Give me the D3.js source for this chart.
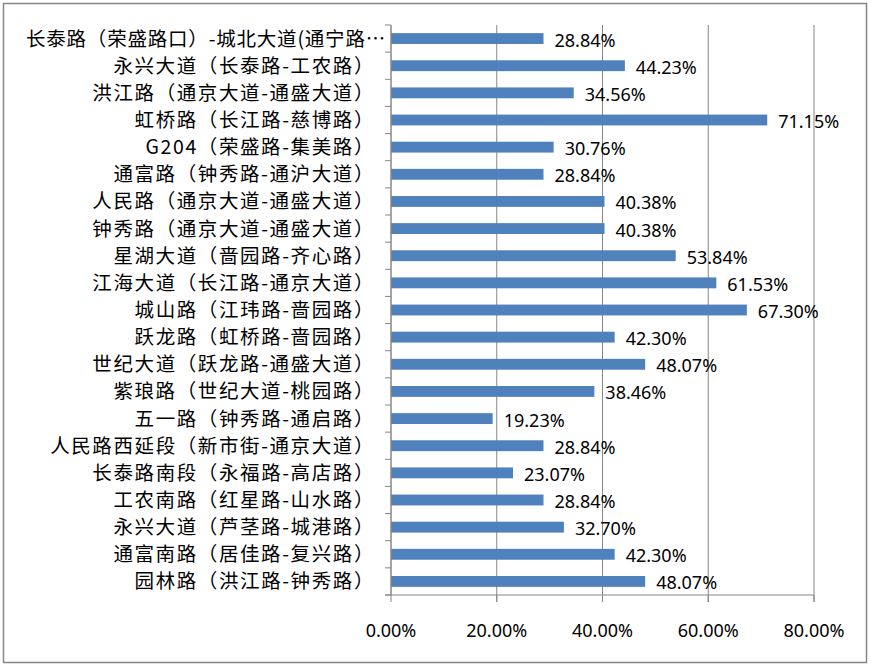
<!DOCTYPE html>
<html>
<head>
    <meta charset="utf-8">
    <style>
        body { margin: 0; background: #fff; }
        svg { display: block; }
        .cat text { font-family: "Noto Sans CJK SC", sans-serif; font-size: 19.5px; letter-spacing: 1.6px; }
        .num { font-family: "Noto Sans", sans-serif; font-size: 18px; }
    </style>
</head>
<body>
    <svg width="871" height="667"></svg>

<script src="https://d3js.org/d3.v7.min.js"></script>
<script>
    // categories top to bottom, values in %
    let roads = [
        "长泰路（荣盛路口）-城北大道(通宁路…",
        "永兴大道（长泰路-工农路）",
        "洪江路（通京大道-通盛大道）",
        "虹桥路（长江路-慈博路）",
        "G204（荣盛路-集美路）",
        "通富路（钟秀路-通沪大道）",
        "人民路（通京大道-通盛大道）",
        "钟秀路（通京大道-通盛大道）",
        "星湖大道（啬园路-齐心路）",
        "江海大道（长江路-通京大道）",
        "城山路（江玮路-啬园路）",
        "跃龙路（虹桥路-啬园路）",
        "世纪大道（跃龙路-通盛大道）",
        "紫琅路（世纪大道-桃园路）",
        "五一路（钟秀路-通启路）",
        "人民路西延段（新市街-通京大道）",
        "长泰路南段（永福路-高店路）",
        "工农南路（红星路-山水路）",
        "永兴大道（芦茎路-城港路）",
        "通富南路（居佳路-复兴路）",
        "园林路（洪江路-钟秀路）"
    ]
    let rates = [28.84, 44.23, 34.56, 71.15, 30.76, 28.84, 40.38, 40.38, 53.84, 61.53,
        67.30, 42.30, 48.07, 38.46, 19.23, 28.84, 23.07, 28.84, 32.70, 42.30, 48.07]
    let xTicks = [0, 20, 40, 60, 80]

    let svg = d3.select("svg")
    let grey = "#868686"

    // chart frame
    svg.append("rect")
        .attr("x", 3.5).attr("y", 3.5)
        .attr("width", 863).attr("height", 659)
        .style("fill", "#fff")
        .style("stroke", grey)
        .style("stroke-width", 1.5)

    let pLeft = 391, pRight = 814, pTop = 25, pBottom = 595

    let x = d3.scaleLinear().domain([0, 80]).range([pLeft, pRight])
    let y = d3.scaleBand().domain(roads).range([pTop, pBottom]).paddingInner(0.6).paddingOuter(0.3)

    // gridlines
    svg.selectAll(".grid")
        .data(xTicks.slice(1))
        .join("line")
        .attr("x1", d => x(d)).attr("x2", d => x(d))
        .attr("y1", pTop).attr("y2", pBottom + 7)
        .style("stroke", grey)

    // bars
    svg.selectAll(".bar")
        .data(rates)
        .join("rect")
        .attr("x", x(0))
        .attr("y", (d, i) => y(roads[i]))
        .attr("width", d => x(d) - x(0))
        .attr("height", y.bandwidth())
        .style("fill", "#4F81BD")

    // value labels
    svg.selectAll(".val")
        .data(rates)
        .join("text")
        .attr("class", "num")
        .attr("x", d => x(d) + 11)
        .attr("y", (d, i) => y(roads[i]) + y.bandwidth() / 2 + 8)
        .text(d => d.toFixed(2) + "%")

    // y axis
    let yAxis = svg.append("g").attr("class", "cat")
    let step = (pBottom - pTop) / roads.length
    yAxis.append("line")
        .attr("x1", pLeft).attr("x2", pLeft)
        .attr("y1", pTop).attr("y2", pBottom)
        .style("stroke", grey)
    yAxis.selectAll(".tk")
        .data(d3.range(roads.length + 1))
        .join("line")
        .attr("x1", pLeft - 6).attr("x2", pLeft)
        .attr("y1", d => pTop + d * step).attr("y2", d => pTop + d * step)
        .style("stroke", grey)
    yAxis.selectAll(".lbl")
        .data(roads)
        .join("text")
        .attr("x", (d, i) => i == 0 ? 386 : 375)
        .attr("y", d => y(d) + y.bandwidth() / 2 + 7)
        .attr("text-anchor", "end")
        .style("letter-spacing", (d, i) => i == 0 ? "0.8px" : null)
        .text(d => d)

    // x axis
    svg.append("line")
        .attr("x1", pLeft - 6).attr("x2", pRight)
        .attr("y1", pBottom).attr("y2", pBottom)
        .style("stroke", grey)
    svg.selectAll(".xtk")
        .data(xTicks)
        .join("line")
        .attr("x1", d => x(d)).attr("x2", d => x(d))
        .attr("y1", d => d == 0 ? pTop : pBottom).attr("y2", pBottom + 7)
        .style("stroke", grey)
    svg.selectAll(".xl")
        .data(xTicks)
        .join("text")
        .attr("class", "num")
        .attr("x", d => x(d))
        .attr("y", 637)
        .attr("text-anchor", "middle")
        .text(d => d.toFixed(2) + "%")
</script>
</body>
</html>
